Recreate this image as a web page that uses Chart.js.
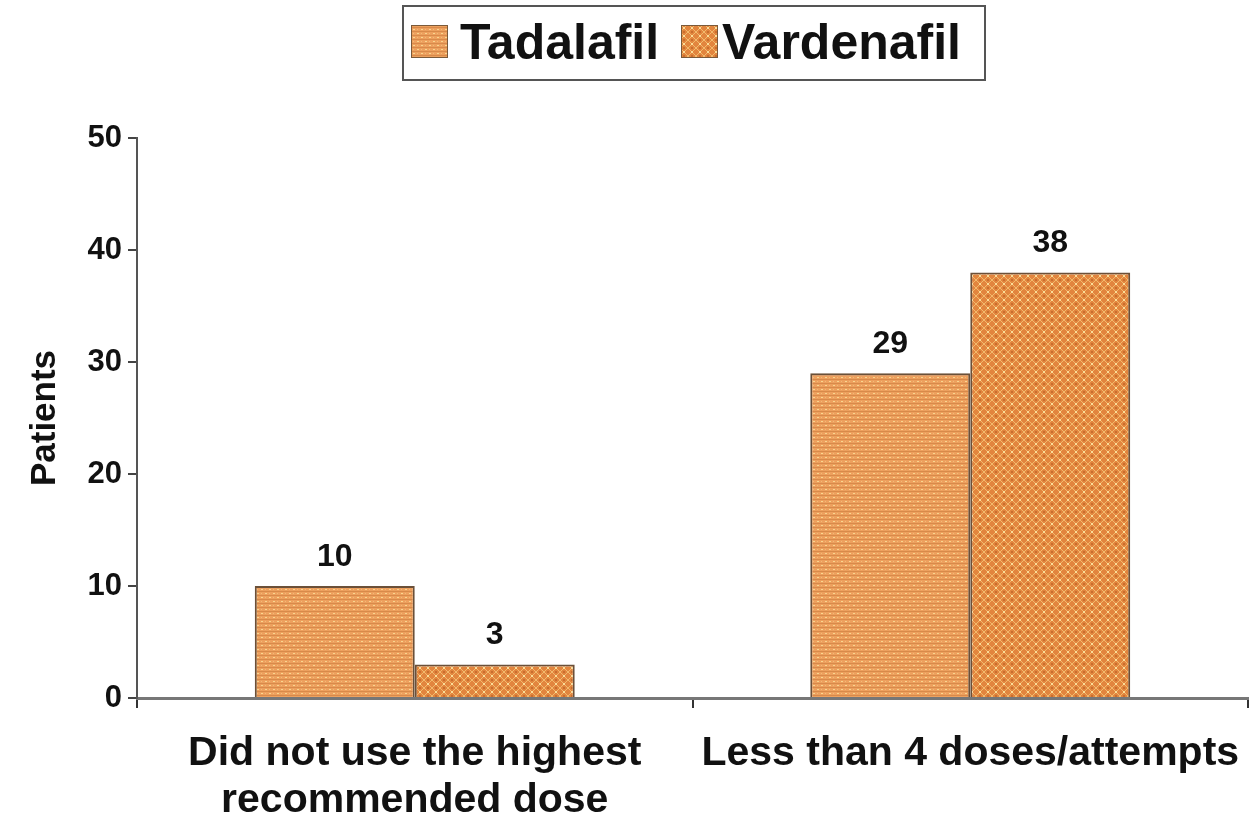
<!DOCTYPE html>
<html>
<head>
<meta charset="utf-8">
<title>Patients by reason</title>
<script src="https://cdn.jsdelivr.net/npm/chart.js@4.4.1/dist/chart.umd.min.js"></script>
<style>
    body { margin: 0; background: #fff; }
    #wrap { width: 1255px; height: 822px; position: relative; }
</style>
</head>
<body>
<div id="wrap"><canvas id="patientsChart"></canvas></div>
<script>
const categories = [
    ['Did not use the highest', 'recommended dose'],
    'Less than 4 doses/attempts'
];
const seriesNames = ['Tadalafil', 'Vardenafil'];
const tadalafil = [10, 29];
const vardenafil = [3, 38];
const yTicks = [0, 10, 20, 30, 40, 50];

const FONT = '"Liberation Sans", Arial, Helvetica, sans-serif';

// Small tiled textures for the two series
function makePattern(kind) {
    const c = document.createElement('canvas');
    c.width = 8;
    c.height = 8;
    const g = c.getContext('2d');
    if (kind === 'dots') {
        g.fillStyle = '#eda05e';
        g.fillRect(0, 0, 8, 8);
        g.fillStyle = '#d88a4a';
        g.fillRect(0, 3, 8, 1);
        g.fillRect(0, 7, 8, 1);
        g.fillStyle = '#f8d690';
        g.fillRect(1, 1, 2, 1);
        g.fillRect(5, 5, 2, 1);
        g.fillStyle = '#f3bb78';
        g.fillRect(5, 1, 1, 1);
        g.fillRect(1, 5, 1, 1);
    } else {
        g.fillStyle = '#e2853e';
        g.fillRect(0, 0, 8, 8);
        g.fillStyle = '#f2b96c';
        // diagonal lattice
        for (let i = 0; i < 8; i++) {
            g.fillRect(i, i, 1, 1);
            g.fillRect(7 - i, i, 1, 1);
        }
        g.fillStyle = '#f9dc98';
        g.fillRect(3, 3, 2, 2);
        g.fillStyle = '#c96e2d';
        g.fillRect(3, 0, 2, 1);
        g.fillRect(3, 7, 2, 1);
    }
    return g.createPattern(c, 'repeat');
}

const fills = [makePattern('dots'), makePattern('cross')];

// Value above each bar
const valueLabels = {
    id: 'valueLabels',
    afterDatasetsDraw(chart) {
        const ctx = chart.ctx;
        ctx.save();
        ctx.font = 'bold 32px ' + FONT;
        ctx.fillStyle = '#111';
        ctx.textAlign = 'center';
        ctx.textBaseline = 'alphabetic';
        chart.data.datasets.forEach((ds, i) => {
            chart.getDatasetMeta(i).data.forEach((bar, j) => {
                ctx.fillText(ds.data[j], bar.x, bar.y - 20);
            });
        });
        ctx.restore();
    }
};

// Boxed legend across the top
const boxedLegend = {
    id: 'boxedLegend',
    afterDraw(chart) {
        const ctx = chart.ctx;
        ctx.save();
        ctx.strokeStyle = '#555';
        ctx.lineWidth = 2;
        ctx.strokeRect(403, 6, 582, 74);
        ctx.font = 'bold 50px ' + FONT;
        ctx.textBaseline = 'alphabetic';
        const items = [
            { x: 411, tx: 460 },
            { x: 681, tx: 722 }
        ];
        items.forEach((it, i) => {
            ctx.fillStyle = fills[i];
            ctx.fillRect(it.x, 25, 37, 33);
            ctx.strokeStyle = '#7a5a3a';
            ctx.lineWidth = 1;
            ctx.strokeRect(it.x + 0.5, 25.5, 36, 32);
            ctx.fillStyle = '#111';
            ctx.fillText(seriesNames[i], it.tx, 59);
        });
        ctx.restore();
    }
};

const ctx = document.getElementById('patientsChart');
new Chart(ctx, {
    type: 'bar',
    data: {
        labels: categories,
        datasets: [
            {
                label: seriesNames[0],
                data: tadalafil,
                backgroundColor: fills[0],
                borderColor: '#6b5038',
                borderWidth: 2,
                borderSkipped: 'bottom',
                barPercentage: 1,
                categoryPercentage: 0.576
            },
            {
                label: seriesNames[1],
                data: vardenafil,
                backgroundColor: fills[1],
                borderColor: '#6b5038',
                borderWidth: 2,
                borderSkipped: 'bottom',
                barPercentage: 1,
                categoryPercentage: 0.576
            }
        ]
    },
    options: {
        responsive: true,
        maintainAspectRatio: false,
        animation: false,
        layout: { padding: { top: 138, right: 0, left: 24, bottom: 0 } },
        plugins: {
            legend: { display: false },
            tooltip: { enabled: false }
        },
        scales: {
            x: {
                grid: {
                    display: true,
                    drawOnChartArea: false,
                    offset: true,
                    tickLength: 10,
                    color: '#333',
                    lineWidth: 2
                },
                border: { color: '#777', width: 3 },
                ticks: {
                    color: '#111',
                    font: { family: FONT, size: 41, weight: 'bold', lineHeight: 1.15 },
                    maxRotation: 0,
                    padding: 22
                },
                afterFit(scale) {
                    scale.height = 124;
                    scale.paddingRight = 7;
                }
            },
            y: {
                min: 0,
                max: 50,
                afterBuildTicks(scale) {
                    scale.ticks = yTicks.map(v => ({ value: v }));
                },
                grid: {
                    display: true,
                    drawOnChartArea: false,
                    tickLength: 9,
                    color: '#444',
                    lineWidth: 2
                },
                border: { color: '#555', width: 2 },
                ticks: {
                    color: '#111',
                    font: { family: FONT, size: 31, weight: 'bold' },
                    padding: 6
                },
                title: {
                    display: true,
                    text: 'Patients',
                    color: '#111',
                    font: { family: FONT, size: 35, weight: 'bold' },
                    padding: { top: 0, bottom: 0 }
                },
                afterFit(scale) { scale.width = 113; }
            }
        }
    },
    plugins: [valueLabels, boxedLegend]
});
</script>
</body>
</html>
